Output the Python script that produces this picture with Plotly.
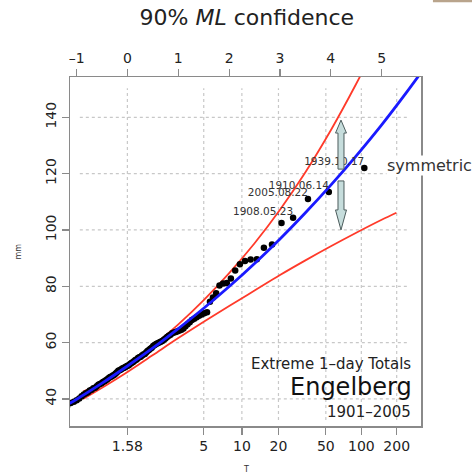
import numpy as np
import plotly.graph_objects as go

# ---------------- data ----------------
# annual maxima of 1-day totals [mm], sorted ascending (1901-2005, n=105)
obs_mm = [33.5, 35.0, 36.5, 37.5, 38.6, 39.0, 39.5, 40.2, 41.0, 41.6,
          42.0, 42.4, 43.0, 43.3, 43.8, 44.0, 44.5, 45.0, 45.3, 45.6,
          46.0, 46.3, 46.6, 47.0, 47.4, 47.8, 48.0, 48.3, 48.6, 49.0,
          49.5, 50.0, 50.2, 50.5, 50.8, 51.0, 51.3, 51.5, 51.8, 52.0,
          52.4, 52.8, 53.0, 53.4, 53.8, 54.0, 54.5, 54.8, 55.0, 55.4,
          55.8, 56.0, 56.5, 57.0, 57.4, 57.8, 58.2, 58.8, 59.2, 59.5,
          59.8, 60.0, 60.3, 60.6, 61.0, 61.5, 62.0, 62.4, 62.8, 63.3,
          63.6, 63.8, 64.0, 64.3, 64.6, 65.0, 65.8, 66.5, 67.2, 68.0,
          68.5, 69.0, 69.5, 70.0, 70.4, 70.8, 74.5, 76.0, 77.5, 80.3,
          81.0, 81.2, 82.8, 85.6, 87.8, 89.0, 89.5, 89.6, 93.7, 94.8,
          102.5, 104.3, 111.0, 113.5, 122.0]

# labels of the four largest events (rank from top: 4th, 3rd, 2nd, 1st)
event_labels = ["1908.05.23", "2005.08.22", "1910.06.14", "1939.10.17"]

# fitted return level curve (reduced Gumbel variate -> mm)
fit_y = [-1.3, -1.0, -0.5, 0.0, 0.5, 1.0, 1.5, 2.0, 2.5, 3.0, 3.5, 4.0, 4.5, 5.0, 5.5, 5.9]
fit_mm = [36.7, 39.9, 45.6, 51.7, 58.1, 65.0, 72.2, 79.9, 88.1, 96.8, 106.1, 115.9, 126.3, 137.3, 149.1, 159.0]

# 90% confidence bounds
upper_y = [-0.875, -0.5, 0.0, 0.5, 1.0, 1.5, 2.0, 2.5, 3.0, 3.5, 4.0, 4.5, 4.8]
upper_mm = [42.6, 45.8, 52.0, 58.9, 66.5, 75.1, 84.7, 95.3, 107.2, 120.5, 135.4, 151.9, 162.5]
lower_y = [-0.875, -0.5, 0.0, 0.5, 1.0, 1.5, 2.0, 2.5, 3.0, 3.5, 4.0, 4.5, 5.0, 5.29]
lower_mm = [40.0, 44.0, 49.6, 55.6, 61.6, 67.4, 73.0, 78.5, 84.0, 89.2, 94.2, 99.0, 103.6, 106.1]

# axes
T_ticks = [1.58, 5, 10, 20, 50, 100, 200]
T_labels = ["1.58", "5", "10", "20", "50", "100", "200"]
top_ticks = [-1, 0, 1, 2, 3, 4, 5]
top_labels = ["–1", "0", "1", "2", "3", "4", "5"]
mm_ticks = [40, 60, 80, 100, 120, 140]


def reduced(T):
    T = np.asarray(T, dtype=float)
    return -np.log(-np.log(1.0 - 1.0 / T))


n = len(obs_mm)
p = np.arange(1, n + 1) / (n + 1.0)
obs_y = -np.log(-np.log(p))
T_pos = reduced(T_ticks)

FONT = "DejaVu Sans, Liberation Sans, Arial, sans-serif"
AX = "#8a8a8a"
TXT = "#222222"
XR = [-1.131, 5.774]
YR = [30.4, 154.3]

fig = go.Figure()

fig.add_trace(go.Scatter(x=upper_y, y=upper_mm, mode="lines",
                         line=dict(color="#ff3a2a", width=1.8, shape="spline"), hoverinfo="skip"))
fig.add_trace(go.Scatter(x=lower_y, y=lower_mm, mode="lines",
                         line=dict(color="#ff3a2a", width=1.8, shape="spline"), hoverinfo="skip"))
fig.add_trace(go.Scatter(x=obs_y, y=obs_mm, mode="markers",
                         marker=dict(color="black", size=6.5), hoverinfo="skip"))
fig.add_trace(go.Scatter(x=fit_y, y=fit_mm, mode="lines",
                         line=dict(color="#1a1aff", width=2.8, shape="spline"), hoverinfo="skip"))

# labels of the largest events (trace text, so the arrow shape can cover one)
fig.add_trace(go.Scatter(x=obs_y[-4:], y=obs_mm[-4:], mode="text", text=event_labels,
                         textposition="top left",
                         textfont=dict(family=FONT, size=10.5, color="#333333"),
                         hoverinfo="skip"))

# dummy trace for the top axis
fig.add_trace(go.Scatter(x=[0], y=[100], xaxis="x2", mode="markers",
                         marker=dict(opacity=0), hoverinfo="skip"))

# dotted grid (limited extent like the original)
shapes = []
for v in mm_ticks:
    shapes.append(dict(type="line", xref="x domain", yref="y", x0=0.028, x1=0.963, y0=v, y1=v,
                       line=dict(color="#c8c8c8", width=1.2, dash="dot"), layer="below"))
for v in T_pos:
    shapes.append(dict(type="line", xref="x", yref="y domain", x0=v, x1=v, y0=0.017, y1=0.968,
                       line=dict(color="#c8c8c8", width=1.2, dash="dot"), layer="below"))

# block arrows
cx, sw, hw = 4.20, 0.059, 0.108
up = (f"M {cx},{139.0} L {cx+hw},{134.4} L {cx+sw},{134.4} L {cx+sw},{121.6} "
      f"L {cx-sw},{121.6} L {cx-sw},{134.4} L {cx-hw},{134.4} Z")
dn = (f"M {cx},{100.0} L {cx+hw},{107.1} L {cx+sw},{107.1} L {cx+sw},{117.4} "
      f"L {cx-sw},{117.4} L {cx-sw},{107.1} L {cx-hw},{107.1} Z")
for pth in (up, dn):
    shapes.append(dict(type="path", xref="x", yref="y", path=pth, fillcolor="#c6dddc",
                       line=dict(color="#4d5d5d", width=1), layer="above"))

# small artefact in the top-right corner
shapes.append(dict(type="rect", xref="paper", yref="paper", x0=1.034, x1=1.15, y0=1.214, y1=1.222,
                   fillcolor="#b9a48c", line=dict(width=0)))

annotations = [
    dict(text="symmetric", xref="paper", yref="paper", x=0.9, y=0.745, xanchor="left", yanchor="middle",
         showarrow=False, font=dict(family=FONT, size=16, color="#333333"), bgcolor="white", borderpad=0),
    dict(text="Extreme 1–day Totals", xref="paper", yref="paper", x=0.977, y=0.178, xanchor="right",
         yanchor="middle", showarrow=False, font=dict(family=FONT, size=15, color=TXT)),
    dict(text="Engelberg", xref="paper", yref="paper", x=0.979, y=0.111, xanchor="right",
         yanchor="middle", showarrow=False, font=dict(family=FONT, size=24, color="#111111")),
    dict(text="1901–2005", xref="paper", yref="paper", x=0.977, y=0.041, xanchor="right",
         yanchor="middle", showarrow=False, font=dict(family=FONT, size=15, color=TXT)),
    dict(text="mm", xref="paper", yref="paper", x=-0.148, y=0.50, xanchor="center", yanchor="middle",
         textangle=-90, showarrow=False, font=dict(family=FONT, size=8, color="#333333")),
    dict(text="T", xref="paper", yref="paper", x=0.502, y=-0.126, xanchor="center", yanchor="middle",
         showarrow=False, font=dict(family=FONT, size=8, color="#333333")),
]

tickfont = dict(family=FONT, size=14, color=TXT)
fig.update_layout(
    width=472, height=474,
    margin=dict(l=70, r=51, t=77, b=48, autoexpand=False),
    paper_bgcolor="white", plot_bgcolor="white",
    showlegend=False,
    font=dict(family=FONT, color=TXT),
    title=dict(text="90% <i>ML</i> confidence", x=0.523, xanchor="center", y=0.963, yanchor="middle",
               font=dict(family=FONT, size=22, color=TXT)),
    xaxis=dict(range=XR, tickvals=list(T_pos), ticktext=T_labels, ticks="outside", ticklen=7,
               tickcolor=AX, tickwidth=1.3, showline=True, linecolor=AX, linewidth=1.5,
               showgrid=False, zeroline=False, tickfont=tickfont),
    xaxis2=dict(range=XR, overlaying="x", side="top", anchor="y", tickvals=top_ticks,
                ticktext=top_labels, ticks="outside", ticklen=7,
                tickcolor=AX, tickwidth=1.3, showline=True, linecolor=AX, linewidth=1.5,
                showgrid=False, zeroline=False, tickfont=tickfont),
    yaxis=dict(range=YR, tickvals=mm_ticks, tickangle=-90, ticks="outside", ticklen=7,
               tickcolor=AX, tickwidth=1.3, showline=True, mirror=True, linecolor=AX, linewidth=1.5,
               showgrid=False, zeroline=False, tickfont=tickfont),
    shapes=shapes, annotations=annotations,
)

fig.write_html("out.html", config={"displayModeBar": False, "staticPlot": True},
               post_script="document.body.style.margin='0';")
